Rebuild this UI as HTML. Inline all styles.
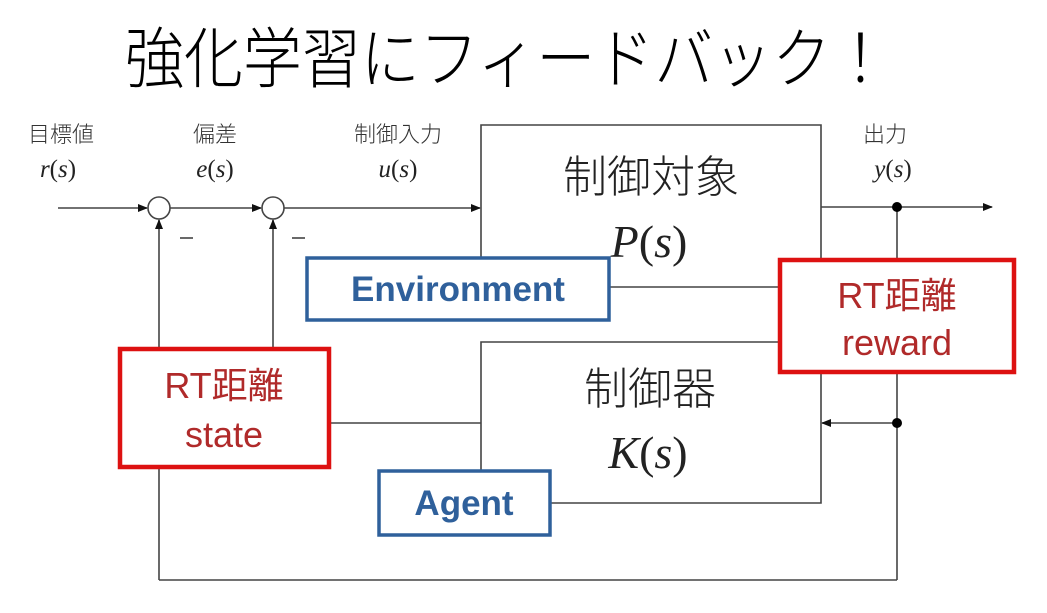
<!DOCTYPE html>
<html><head><meta charset="utf-8"><style>html,body{margin:0;padding:0;background:#fff}svg{display:block}</style></head>
<body>
<svg width="1047" height="613" viewBox="0 0 1047 613" xmlns="http://www.w3.org/2000/svg">
<defs><marker id="a" markerWidth="10" markerHeight="8" refX="9" refY="4" orient="auto" markerUnits="userSpaceOnUse"><path d="M0,0 L10,4 L0,8 Z" fill="#111"/></marker></defs>
<rect width="1047" height="613" fill="#fff"/>
<text x="125" y="82" font-family="'Noto Sans CJK JP', sans-serif" font-weight="300" font-size="66" textLength="765" lengthAdjust="spacingAndGlyphs" fill="#000">強化学習にフィードバック！</text>
<g stroke="#444" stroke-width="1.6" fill="none">
<line x1="58" y1="208" x2="147" y2="208" marker-end="url(#a)"/>
<circle cx="159" cy="208" r="11"/>
<line x1="170" y1="208" x2="261" y2="208" marker-end="url(#a)"/>
<circle cx="273" cy="208" r="11"/>
<line x1="284" y1="208" x2="480" y2="208" marker-end="url(#a)"/>
<line x1="159" y1="580" x2="159" y2="220" marker-end="url(#a)"/>
<line x1="273" y1="348" x2="273" y2="220" marker-end="url(#a)"/>
<polyline points="481,257 481,125 821,125 821,258"/>
<line x1="821" y1="207" x2="992" y2="207" marker-end="url(#a)"/>
<line x1="897" y1="207" x2="897" y2="580"/>
<line x1="897" y1="580" x2="159" y2="580"/>
<line x1="897" y1="423" x2="822" y2="423" marker-end="url(#a)"/>
<polyline points="481,470 481,342 779,342"/>
<polyline points="821,373 821,503 551,503"/>
<line x1="610" y1="287" x2="779" y2="287"/>
<line x1="330" y1="423" x2="481" y2="423"/>
<line x1="180" y1="238" x2="193" y2="238"/>
<line x1="292" y1="238" x2="305" y2="238"/>
</g>
<circle cx="897" cy="207" r="5" fill="#000"/>
<circle cx="897" cy="423" r="5" fill="#000"/>
<g font-family="'Noto Sans CJK JP', sans-serif" font-weight="300" fill="#333" text-anchor="middle">
<text x="61" y="142" font-size="22">目標値</text>
<text x="215" y="142" font-size="22">偏差</text>
<text x="398" y="142" font-size="22">制御入力</text>
<text x="885" y="142" font-size="22">出力</text>
<text x="651" y="192" font-size="44" fill="#222">制御対象</text>
<text x="650" y="404" font-size="44" fill="#222">制御器</text>
</g>
<g font-family="'Liberation Serif', serif" fill="#222" text-anchor="middle">
<text x="58" y="177" font-size="25"><tspan font-style="italic">r</tspan>(<tspan font-style="italic">s</tspan>)</text>
<text x="215" y="177" font-size="25"><tspan font-style="italic">e</tspan>(<tspan font-style="italic">s</tspan>)</text>
<text x="398" y="177" font-size="25"><tspan font-style="italic">u</tspan>(<tspan font-style="italic">s</tspan>)</text>
<text x="893" y="177" font-size="25"><tspan font-style="italic">y</tspan>(<tspan font-style="italic">s</tspan>)</text>
<text x="649" y="257" font-size="46"><tspan font-style="italic">P</tspan>(<tspan font-style="italic">s</tspan>)</text>
<text x="648" y="468" font-size="46"><tspan font-style="italic">K</tspan>(<tspan font-style="italic">s</tspan>)</text>
</g>
<g fill="#fff" stroke-width="3.5">
<rect x="307" y="258" width="302" height="62" stroke="#2f609b"/>
<rect x="379" y="471" width="171" height="64" stroke="#2f609b"/>
<rect x="120" y="349" width="209" height="118" stroke="#dd1111" stroke-width="4.5"/>
<rect x="780" y="260" width="234" height="112" stroke="#dd1111" stroke-width="4.5"/>
</g>
<g font-family="'Liberation Sans', sans-serif" font-weight="bold" fill="#2f609b" text-anchor="middle" font-size="35">
<text x="458" y="301">Environment</text>
<text x="464" y="515">Agent</text>
</g>
<g font-family="'Liberation Sans', 'Noto Sans CJK JP', sans-serif" fill="#b02a2a" text-anchor="middle" font-size="36">
<text x="224" y="398">RT距離</text>
<text x="224" y="447">state</text>
<text x="897" y="308">RT距離</text>
<text x="897" y="355">reward</text>
</g>
</svg>
</body></html>
